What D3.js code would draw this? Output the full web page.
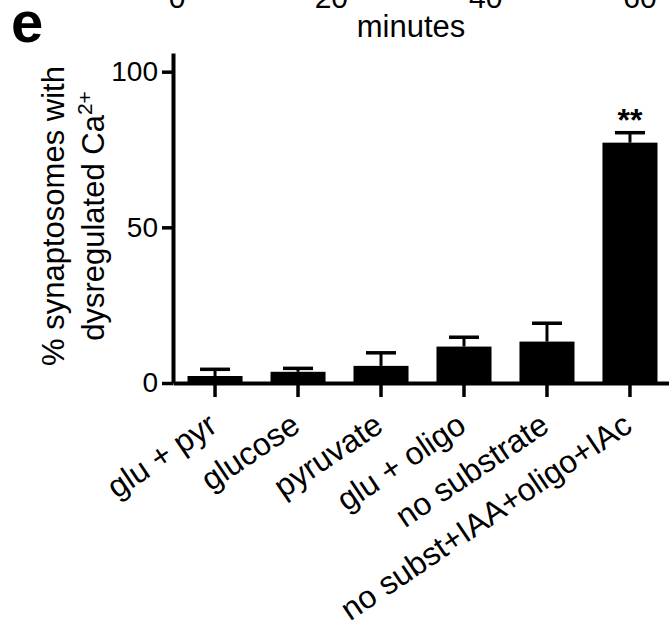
<!DOCTYPE html>
<html>
<head>
<meta charset="utf-8">
<script src="https://cdn.jsdelivr.net/npm/d3@7"></script>
<style>
  body { margin: 0; background: #fff; }
  svg text { font-family: "Liberation Sans", Arial, sans-serif; fill: #000; }
</style>
</head>
<body>
<div id="graph"></div>
<script>
// data
var categories = ["glu + pyr", "glucose", "pyruvate", "glu + oligo", "no substrate", "no subst+IAA+oligo+IAc"];
var means = [2.25, 3.6, 5.5, 11.7, 13.3, 77.2];
var sems = [2.15, 1.1, 4.2, 3.0, 5.9, 3.2];
var signif = ["", "", "", "", "", "**"];
var yTicks = [0, 50, 100];
// tick labels of the panel above, cut by the crop
var prevTicks = [0, 20, 40, 60];

var width = 669, height = 634;

var svg = d3.select("#graph")
  .append("svg")
    .attr("width", width)
    .attr("height", height);

// scales
var x = d3.scaleBand()
  .domain(categories)
  .range([173, 672])
  .paddingInner(0.337)
  .paddingOuter(0.175);

var y = d3.scaleLinear()
  .domain([0, 106])
  .range([383, 53]);

var xPrev = d3.scaleLinear()
  .domain([0, 60])
  .range([177, 640]);

// leftovers of the panel above
svg.selectAll(".prevTick")
  .data(prevTicks)
  .enter()
  .append("text")
    .attr("x", function(d) { return xPrev(d); })
    .attr("y", 8)
    .attr("text-anchor", "middle")
    .style("font-size", "30px")
    .text(function(d) { return d; });

svg.append("text")
  .attr("x", 411)
  .attr("y", 37)
  .attr("text-anchor", "middle")
  .style("font-size", "31px")
  .text("minutes");

// panel letter
svg.append("text")
  .attr("x", 11)
  .attr("y", 42)
  .style("font-size", "58px")
  .style("font-weight", "bold")
  .text("e");

// bars
svg.selectAll(".bar")
  .data(means)
  .enter()
  .append("rect")
    .attr("class", "bar")
    .attr("x", function(d, i) { return x(categories[i]); })
    .attr("width", x.bandwidth())
    .attr("y", function(d) { return y(d); })
    .attr("height", function(d) { return y(0) - y(d); })
    .attr("fill", "#000");

// error bars, upper half only
var err = svg.selectAll(".err")
  .data(means)
  .enter()
  .append("g")
    .attr("class", "err")
    .attr("transform", function(d, i) { return "translate(" + (x(categories[i]) + x.bandwidth() / 2) + ",0)"; });

err.append("line")
  .attr("x1", 0).attr("x2", 0)
  .attr("y1", function(d) { return y(d); })
  .attr("y2", function(d, i) { return y(d + sems[i]); })
  .attr("stroke", "#000")
  .attr("stroke-width", 3);

err.append("line")
  .attr("x1", -15).attr("x2", 15)
  .attr("y1", function(d, i) { return y(d + sems[i]); })
  .attr("y2", function(d, i) { return y(d + sems[i]); })
  .attr("stroke", "#000")
  .attr("stroke-width", 3.5);

// significance stars
svg.selectAll(".star")
  .data(signif)
  .enter()
  .append("text")
    .attr("x", function(d, i) { return x(categories[i]) + x.bandwidth() / 2; })
    .attr("y", function(d, i) { return y(means[i] + sems[i]) - 2; })
    .attr("text-anchor", "middle")
    .style("font-size", "32px")
    .style("font-weight", "bold")
    .text(function(d) { return d; });

// y axis
var yAxis = svg.append("g")
  .attr("transform", "translate(173,0)")
  .call(d3.axisLeft(y).tickValues(yTicks).tickSize(11).tickSizeOuter(0).tickPadding(4));

yAxis.select(".domain").attr("stroke-width", 4);
yAxis.selectAll(".tick line").attr("stroke-width", 3.5);
yAxis.selectAll(".tick text")
  .style("font-size", "28px");

// x axis
var xAxis = svg.append("g")
  .attr("transform", "translate(0,383)")
  .call(d3.axisBottom(x).tickSize(14).tickSizeOuter(0));

xAxis.select(".domain").attr("stroke-width", 4);
xAxis.selectAll(".tick line").attr("stroke-width", 3.5);
xAxis.selectAll(".tick text")
  .attr("x", 0)
  .attr("y", 0)
  .attr("dy", 0)
  .attr("text-anchor", "end")
  .attr("transform", "translate(4,47) rotate(-34)")
  .style("font-size", "32px");

// y axis label
var ylab = svg.append("g")
  .attr("transform", "translate(64,216) rotate(-90)");

ylab.append("text")
  .attr("text-anchor", "middle")
  .style("font-size", "31px")
  .text("% synaptosomes with");

var ylab2 = ylab.append("text")
  .attr("y", 40)
  .attr("text-anchor", "middle")
  .style("font-size", "31px");
ylab2.append("tspan").text("dysregulated Ca");
ylab2.append("tspan")
  .attr("dy", -12)
  .style("font-size", "21px")
  .text("2+");
</script>
</body>
</html>
